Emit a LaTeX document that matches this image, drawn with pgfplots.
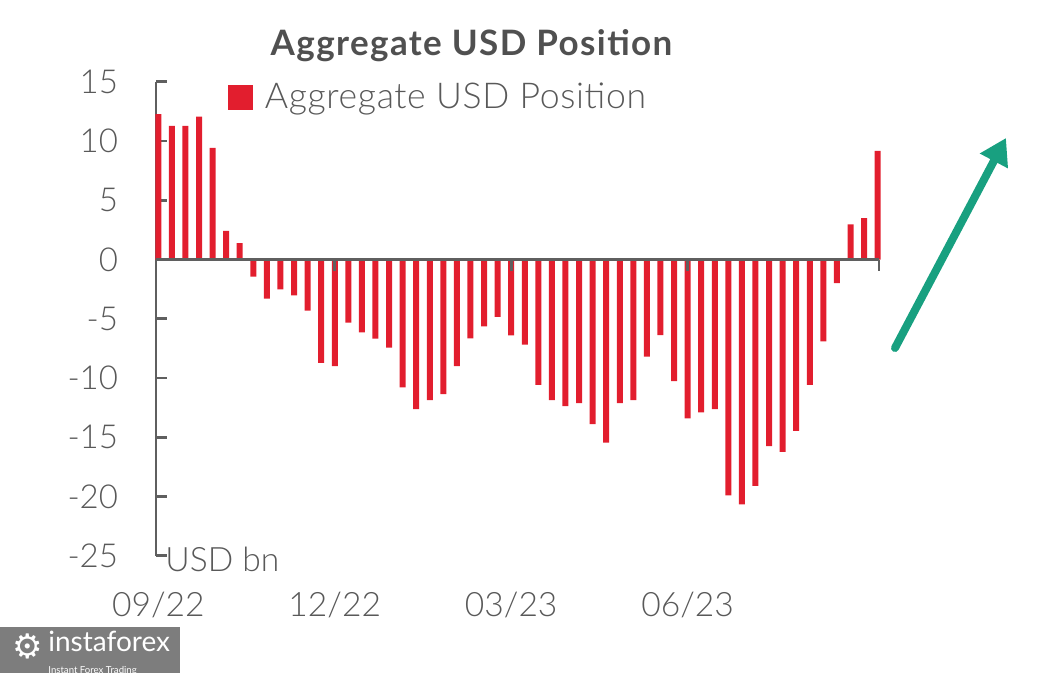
\documentclass[border=0pt]{standalone}
\usepackage{fontspec}
\IfFontExistsTF{Lato Light}{\setmainfont{Lato Light}[BoldFont={Lato Bold}]}{\setmainfont{Lato}}
\newfontfamily\symfont{DejaVu Sans}
\newfontfamily\logofont{Lato}
\usepackage{pgfplots}
\pgfplotsset{compat=1.18}
\usetikzlibrary{arrows.meta}
\definecolor{barred}{RGB}{226,30,46}
\definecolor{txt}{RGB}{89,89,89}
\definecolor{titlecol}{RGB}{80,80,80}
\definecolor{axisgray}{RGB}{95,95,95}
\definecolor{arrowgreen}{RGB}{24,160,128}
\definecolor{logogray}{RGB}{125,125,125}
\begin{document}
\begin{tikzpicture}[x=1pt,y=1pt]
\useasboundingbox (0,0) rectangle (525,336.5);
\begin{axis}[
  at={(78pt,58.6pt)}, anchor=south west,
  width=361.5pt, height=237pt, scale only axis,
  xmin=-0.17, xmax=53.1, ymin=-25, ymax=15,
  axis x line=bottom, axis y line=left,
  x axis line style={draw=none},
  y axis line style={-, draw=axisgray, line width=1.35pt},
  ytick={-25,-20,-15,-10,-5,0,5,10,15},
  yticklabels={-25,-20,-15,-10,-5,0,5,10,15},
  ytick style={draw=axisgray, line width=1.35pt},
  major tick length=5.5pt, tick align=inside,
  yticklabel style={anchor=east, inner xsep=0pt, xshift=-18.8pt, text=txt, font=\fontsize{16.5}{16.5}\selectfont},
  xtick={0,13,26,39}, xticklabels={09/22,12/22,03/23,06/23},
  xtick style={draw=none},
  xticklabel style={anchor=base, yshift=-25pt, text=txt, font=\fontsize{16.8}{16.8}\selectfont},
  ybar, bar width=3pt,
  clip=false,
  legend style={at={(0.1,0.967)}, anchor=west, draw=none, fill=none,
    inner sep=0pt, outer sep=0pt, nodes={inner sep=0pt, text=txt},
    font=\fontsize{17.8}{17.8}\selectfont\addfontfeature{LetterSpace=1.8},
    /tikz/every odd column/.append style={column sep=5.8pt}},
]
\addplot[fill=barred, draw=none,
  legend image code/.code={\fill[barred] (0pt,-6.25pt) rectangle (12.5pt,6.25pt);}]
coordinates {
(0,12.28) (1,11.27) (2,11.27) (3,12.05) (4,9.43) (5,2.41) (6,1.39) (7,-1.45)
(8,-3.29) (9,-2.51) (10,-3.02) (11,-4.32) (12,-8.73) (13,-8.99) (14,-5.33) (15,-6.14)
(16,-6.68) (17,-7.43) (18,-10.78) (19,-12.62) (20,-11.86) (21,-11.35) (22,-8.99) (23,-6.65)
(24,-5.64) (25,-4.83) (26,-6.40) (27,-7.19) (28,-10.57) (29,-11.86) (30,-12.36) (31,-12.11)
(32,-13.88) (33,-15.46) (34,-12.11) (35,-11.86) (36,-8.20) (37,-6.37) (38,-10.25) (39,-13.40)
(40,-12.89) (41,-12.62) (42,-19.90) (43,-20.66) (44,-19.11) (45,-15.74) (46,-16.24) (47,-14.45)
(48,-10.57) (49,-6.90) (50,-1.98) (51,2.97) (52,3.50) (53,9.18)
};
\addlegendentry{Aggregate USD Position}
\draw[axisgray, line width=1.35pt] (axis cs:-0.17,0) -- (axis cs:53.1,0);
\draw[axisgray, line width=1.35pt] (axis cs:13,0) -- (axis cs:13,-0.95);
\draw[axisgray, line width=1.35pt] (axis cs:26,0) -- (axis cs:26,-0.95);
\draw[axisgray, line width=1.35pt] (axis cs:39,0) -- (axis cs:39,-0.95);
\draw[axisgray, line width=1.35pt] (axis cs:53.1,0) -- (axis cs:53.1,-0.95);
\end{axis}
\node[anchor=base, inner sep=0pt, text=titlecol, font=\bfseries\fontsize{17.5}{17.5}\selectfont\addfontfeature{LetterSpace=4}] at (235.75,308.5) {Aggregate USD Position};
\node[anchor=base west, inner sep=0pt, text=txt, font=\fontsize{16.8}{16.8}\selectfont] at (82.5,50.65) {USD bn};
\draw[arrowgreen, line width=4pt, line cap=round, -{Triangle[width=15pt,length=13pt]}] (447.5,162.5) -- (503,267.5);
\fill[logogray] (0,0) rectangle (90,23);
\node[text=white, inner sep=0pt, font=\symfont\fontsize{17}{17}\selectfont] at (13.8,13.5) {⚙};
\node[anchor=north west, text=white, inner sep=0pt, align=left, font=\logofont] at (24,21) {\fontsize{14}{14}\selectfont instaforex\\[-1pt]\fontsize{4.8}{5}\selectfont Instant Forex Trading};
\end{tikzpicture}
\end{document}
